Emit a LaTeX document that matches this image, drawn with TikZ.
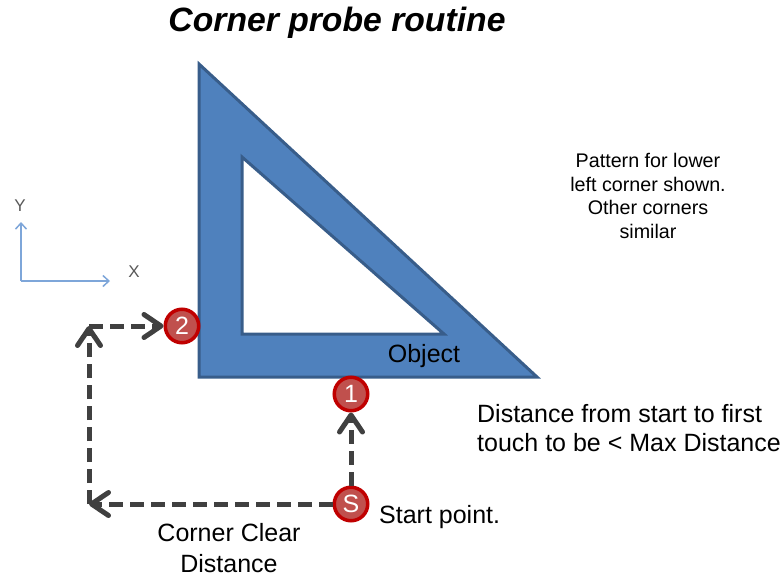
\documentclass[tikz,border=0pt]{standalone}
\usepackage{fontspec}
\setmainfont{Liberation Sans}
\usetikzlibrary{arrows.meta}
\definecolor{objfill}{HTML}{4F81BD}
\definecolor{objline}{HTML}{385D8A}
\definecolor{badgefill}{HTML}{C0504D}
\definecolor{badgeline}{HTML}{C00000}
\definecolor{pathcol}{HTML}{404040}
\definecolor{axiscol}{HTML}{7EA6D9}
\tikzset{
  badge/.style={circle,draw=badgeline,line width=3.5pt,fill=badgefill,text=white,minimum size=33.5pt,inner sep=0pt,font=\fontsize{25}{25}\selectfont},
  pathline/.style={draw=pathcol,line width=5pt,dash pattern=on 14pt off 7pt,-{Straight Barb[length=17pt,width=23pt,line width=5pt,round]}},
  axisline/.style={draw=axiscol,line width=1.5pt,-{Straight Barb[length=6pt,width=11pt,line width=1.5pt]}},
  lbl/.style={inner sep=0pt,text=black,align=center,font=\fontsize{25}{31}\selectfont},
  smalllbl/.style={inner sep=0pt,text=black,align=center,font=\fontsize{19.7}{23.5}\selectfont},
  axislbl/.style={inner sep=0pt,text=black!65,font=\fontsize{17}{17}\selectfont}
}
\begin{document}
\begin{tikzpicture}[x=1pt,y=-1pt]
\useasboundingbox (0,0) rectangle (784,575);
\fill[objfill,draw=objline,line width=3pt,even odd rule,miter limit=10]
  (199,64) -- (537,377) -- (199,377) -- cycle
  (242,157) -- (242,334) -- (444,334) -- cycle;
\node[inner sep=0pt,font=\bfseries\itshape\fontsize{33.7}{34}\selectfont] (title) at (337,23) {Corner probe routine};
\node[smalllbl] (note) at (648,196) {Pattern for lower\\left corner shown.\\Other corners\\similar};
\node[lbl] (obj) at (424,356) {Object};
\node[lbl,align=left,font=\fontsize{25}{29.5}\selectfont] (dist) at (629,428) {Distance from start to first\\touch to be < Max Distance};
\node[lbl,anchor=west] (startlbl) at (379,517) {Start point.};
\node[lbl,font=\fontsize{25}{31}\selectfont] (clear) at (229,548) {Corner Clear\\Distance};
\node[badge] (b2) at (182,326) {2};
\node[badge] (b1) at (351,394) {1};
\node[badge] (bs) at (351,504) {S};
\coordinate (c1) at (89,504);
\coordinate (c2) at (89,326);
\draw[pathline] (bs) -- (b1);
\draw[pathline] (bs) -- (c1);
\draw[pathline] (c1) -- (c2);
\draw[pathline] (c2) -- (b2);
\coordinate (o) at (21,281);
\coordinate (ax) at (110,281);
\coordinate (ay) at (21,222);
\draw[axisline] (o) -- (ax);
\draw[axisline] (o) -- (ay);
\node[axislbl] (xl) at (134,272) {X};
\node[axislbl] (yl) at (20,206) {Y};
\end{tikzpicture}
\end{document}
